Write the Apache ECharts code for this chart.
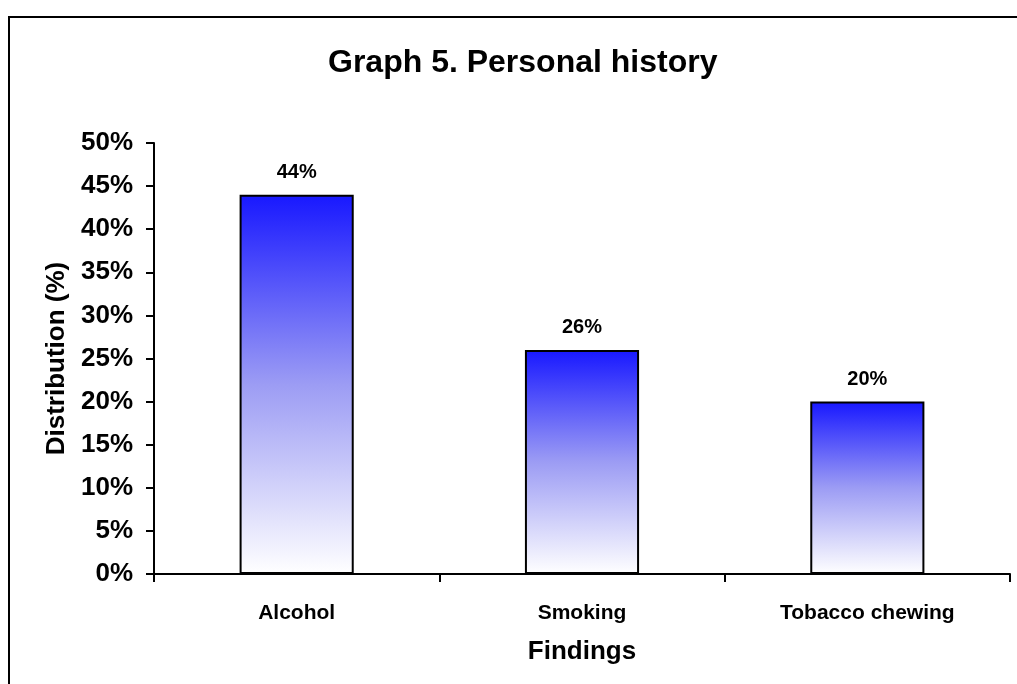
<!DOCTYPE html>
<html>
<head>
<meta charset="utf-8">
<title>Graph 5. Personal history</title>
<script src="https://cdn.jsdelivr.net/npm/echarts@6/dist/echarts.min.js"></script>
<style>
  html, body { margin: 0; padding: 0; background: #ffffff; }
  #chart { width: 1017px; height: 684px; }
</style>
</head>
<body>
<div id="chart"></div>
<script>
// Personal history findings and their share of the sample (percent)
const categories = ['Alcohol', 'Smoking', 'Tobacco chewing'];
const distribution = [44, 26, 20];
const yTicks = [0, 5, 10, 15, 20, 25, 30, 35, 40, 45, 50];

const FONT = "'Liberation Sans', Arial, sans-serif";

const barFill = new echarts.graphic.LinearGradient(0, 0, 0, 1, [
  { offset: 0, color: '#1818ff' },
  { offset: 0.5, color: '#9c9cf4' },
  { offset: 1, color: '#ffffff' }
]);

const chart = echarts.init(document.getElementById('chart'), null, { renderer: 'canvas' });

chart.setOption({
  animation: false,
  backgroundColor: '#ffffff',
  title: {
    text: 'Graph 5. Personal history',
    left: 328,
    top: 47,
    padding: 0,
    textStyle: { fontFamily: FONT, fontSize: 32, fontWeight: 'bold', color: '#000000' }
  },
  graphic: [{
    type: 'rect',
    shape: { x: 9, y: 17, width: 1200, height: 900 },
    style: { fill: 'none', stroke: '#000000', lineWidth: 2 },
    silent: true
  }],
  grid: { left: 154, right: 7, top: 143, bottom: 110, containLabel: false },
  xAxis: {
    type: 'category',
    data: categories,
    name: 'Findings',
    nameLocation: 'middle',
    nameGap: 65,
    nameTextStyle: { fontFamily: FONT, fontSize: 26, fontWeight: 'bold', color: '#000000' },
    axisLine: { lineStyle: { color: '#000000', width: 2 } },
    axisTick: { show: true, length: 8, lineStyle: { color: '#000000', width: 2 } },
    axisLabel: { margin: 29, fontFamily: FONT, fontSize: 21, fontWeight: 'bold', color: '#000000' },
    splitLine: { show: false }
  },
  yAxis: {
    type: 'value',
    min: yTicks[0],
    max: yTicks[yTicks.length - 1],
    interval: yTicks[1] - yTicks[0],
    name: 'Distribution (%)',
    nameLocation: 'middle',
    nameRotate: 90,
    nameGap: 72,
    nameTextStyle: { fontFamily: FONT, fontSize: 26, fontWeight: 'bold', color: '#000000' },
    axisLine: { show: true, lineStyle: { color: '#000000', width: 2 } },
    axisTick: { show: true, length: 8, lineStyle: { color: '#000000', width: 2 } },
    axisLabel: { margin: 21, padding: [4, 0, 0, 0], formatter: '{value}%', fontFamily: FONT, fontSize: 26, fontWeight: 'bold', color: '#000000' },
    splitLine: { show: false }
  },
  series: [{
    type: 'bar',
    data: distribution,
    barWidth: '40%',
    itemStyle: { color: barFill, borderColor: '#000000', borderWidth: 2 },
    label: {
      show: true,
      position: 'top',
      distance: 12,
      formatter: '{c}%',
      fontFamily: FONT,
      fontSize: 20,
      fontWeight: 'bold',
      color: '#000000'
    }
  }]
});
</script>
</body>
</html>
